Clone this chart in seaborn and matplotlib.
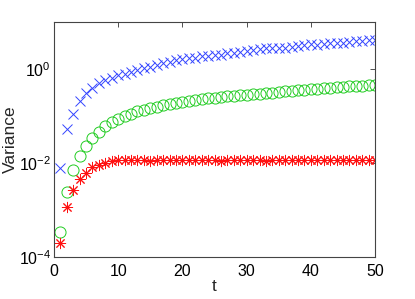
import matplotlib
matplotlib.use('Agg')
import matplotlib.pyplot as plt
from matplotlib.ticker import NullLocator
import seaborn as sns

# ─── Data (one value per time step) ──────────────────────────────────────────
t = list(range(1, 51))

var_blue = [0.00776, 0.0525, 0.110, 0.214, 0.316, 0.398, 0.501, 0.589, 0.661, 0.741,
            0.794, 0.871, 0.955, 1.05, 1.12, 1.23, 1.32, 1.41, 1.55, 1.62,
            1.70, 1.74, 1.86, 1.91, 2.00, 2.04, 2.19, 2.24, 2.34, 2.45,
            2.51, 2.63, 2.82, 2.88, 2.75, 2.88, 3.02, 3.16, 3.24, 3.39,
            3.31, 3.47, 3.55, 3.63, 3.63, 3.80, 3.98, 3.89, 4.07, 4.17]

var_green = [3.47e-4, 2.40e-3, 7.08e-3, 0.0145, 0.0234, 0.0339, 0.0468, 0.0603, 0.0741, 0.0871,
             0.100, 0.112, 0.126, 0.138, 0.148, 0.158, 0.170, 0.182, 0.191, 0.200,
             0.209, 0.219, 0.229, 0.240, 0.245, 0.251, 0.263, 0.269, 0.275, 0.288,
             0.295, 0.302, 0.309, 0.316, 0.331, 0.339, 0.347, 0.355, 0.363, 0.372,
             0.380, 0.389, 0.398, 0.407, 0.417, 0.427, 0.437, 0.447, 0.457, 0.468]

var_red = [2.0e-4, 1.17e-3, 2.7e-3, 4.5e-3, 6.3e-3, 8.1e-3, 9.1e-3, 0.0102, 0.0110, 0.0115,
           0.0116, 0.0114, 0.0117, 0.0115, 0.0113, 0.0116, 0.0118, 0.0115, 0.0114, 0.0116,
           0.0115, 0.0117, 0.0114, 0.0116, 0.0115, 0.0113, 0.0116, 0.0115, 0.0117, 0.0114,
           0.0115, 0.0116, 0.0113, 0.0115, 0.0117, 0.0116, 0.0114, 0.0115, 0.0116, 0.0115,
           0.0117, 0.0114, 0.0115, 0.0116, 0.0115, 0.0114, 0.0116, 0.0117, 0.0115, 0.0116]

xticks = [0, 10, 20, 30, 40, 50]
yticks = [1e-4, 1e-2, 1e0]

# ─── Style ───────────────────────────────────────────────────────────────────
sns.set_theme(style='white')
plt.rcParams['font.family'] = ['Liberation Sans', 'DejaVu Sans']
FS_TICK = 11.5
FS_LABEL = 12.5

fig = plt.figure(figsize=(4.15, 2.99), dpi=100)
ax = fig.add_axes([0.130, 0.140, 0.774, 0.786])

# ─── Series (markers only, MATLAB-like) ──────────────────────────────────────
sns.lineplot(x=t, y=var_blue, ax=ax, errorbar=None, linestyle='',
             marker='x', markersize=6.5, markeredgewidth=0.7,
             color='#3344ff', markeredgecolor='#3344ff')
sns.lineplot(x=t, y=var_green, ax=ax, errorbar=None, linestyle='',
             marker='o', markersize=8, markeredgewidth=0.7,
             markerfacecolor='none', color='#22cc22', markeredgecolor='#22cc22')
sns.lineplot(x=t, y=var_red, ax=ax, errorbar=None, linestyle='',
             marker=(8, 2, 0), markersize=8, markeredgewidth=0.7,
             color='#ff1111', markeredgecolor='#ff1111')

# ─── Axes ────────────────────────────────────────────────────────────────────
ax.set_yscale('log')
ax.set_xlim(0, 50)
ax.set_ylim(1e-4, 1e1)
ax.set_xticks(xticks)
ax.set_yticks(yticks)
ax.yaxis.set_minor_locator(NullLocator())
ax.tick_params(axis='both', which='both', direction='in', length=3.5, width=0.6,
               top=True, right=True, labelsize=FS_TICK, colors='#333333', labelcolor='black')
ax.tick_params(axis='x', pad=5)
ax.tick_params(axis='y', pad=2)

for sp in ax.spines.values():
    sp.set_visible(True)
    sp.set_color('#444444')
    sp.set_linewidth(0.8)

ax.set_xlabel('t', fontsize=FS_LABEL, labelpad=0)
ax.set_ylabel('Variance', fontsize=FS_LABEL, labelpad=1)

plt.savefig('out.png', dpi=100)
plt.close()
